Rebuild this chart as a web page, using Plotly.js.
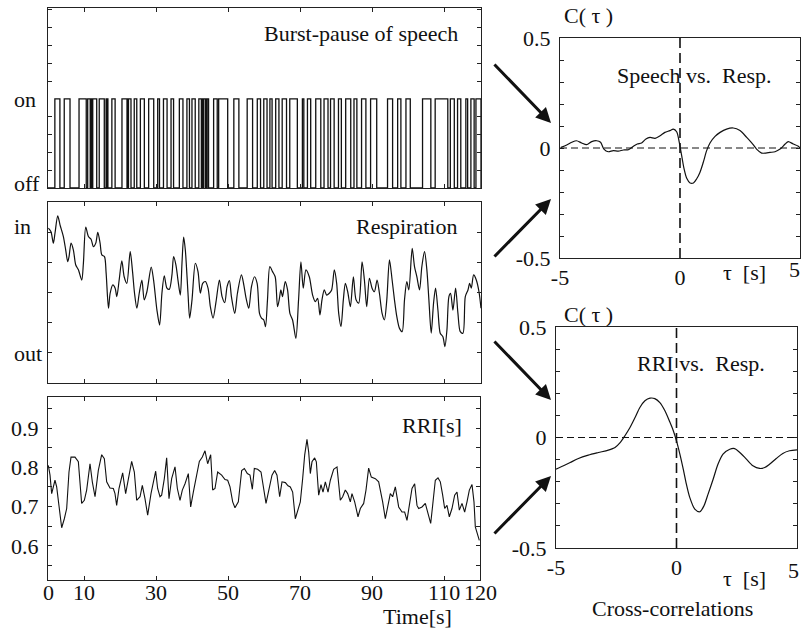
<!DOCTYPE html>
<html>
<head>
<meta charset="utf-8">
<script src="https://cdn.plot.ly/plotly-3.0.1.min.js"></script>
<style>html,body{margin:0;padding:0;background:#fff;}#chart{width:802px;height:628px;}</style>
</head>
<body>
<div id="chart"></div>
<script>
// ---------- DATA ----------
// Burst-pause of speech: intervals [start, end] (s) when speech is "on"
const speechOn = [[1.9,3.3],[4.5,6.1],[8.6,10.6],[11.0,11.7],[11.85,12.05],[12.15,12.3],[12.4,13.5],[14.2,15.6],[16.1,16.25],[16.4,16.6],[17.7,18.6],[20.5,21.9],[22.0,22.15],[22.3,23.0],[23.9,24.6],[25.6,26.7],[27.9,29.3],[30.4,30.9],[32.0,33.0],[34.1,34.8],[36.4,37.4],[38.5,39.2],[39.9,40.8],[41.8,42.5],[42.7,42.85],[43.1,43.6],[43.75,43.9],[44.1,44.5],[45.9,46.9],[47.3,49.8],[51.5,52.9],[55.2,56.7],[58.0,58.9],[59.8,60.7],[61.5,62.1],[63.1,64.0],[64.9,66.1],[67.0,69.1],[70.5,70.9],[71.9,72.8],[74.2,75.6],[76.5,77.6],[78.3,79.3],[80.5,81.3],[82.5,83.9],[84.8,85.6],[86.9,88.1],[89.4,91.1],[94.1,95.5],[96.9,97.8],[99.2,100.4],[103.8,106.1],[107.3,110.8],[111.5,112.6],[113.5,114.4],[115.8,116.3],[117.2,118.1],[118.6,120]];

// Respiration (arbitrary units: out = 1, in ≈ 5.3)
const respT = [0.1,0.83,1.48,1.94,2.69,3.33,4.26,4.91,5.46,5.83,6.39,7.04,7.69,8.43,9.35,9.81,10.46,11.2,11.94,12.59,13.24,13.8,14.44,14.91,15.65,16.11,16.76,17.22,17.96,18.61,19.07,19.72,20.46,21.11,21.85,22.78,23.43,23.98,24.63,25.28,26.02,26.67,27.41,28.61,29.26,30.19,30.93,31.57,32.22,32.96,33.61,34.35,34.81,35.46,36.02,36.67,37.13,37.59,38.06,38.8,39.26,39.91,40.83,41.57,42.22,42.87,43.61,44.35,45.0,45.74,46.57,47.5,48.24,48.98,49.63,50.28,50.83,51.76,52.5,53.61,54.26,54.91,55.65,56.39,57.22,57.96,58.61,59.17,59.81,60.28,60.83,61.48,62.22,62.96,63.61,64.07,64.54,65.0,65.74,66.39,67.04,67.78,68.7,69.44,70.09,70.74,71.48,72.41,73.33,74.07,74.72,75.37,75.93,76.57,77.22,77.96,78.61,79.35,80.0,80.56,81.2,81.85,82.41,83.06,83.8,84.63,85.37,86.11,87.04,87.69,88.33,89.07,89.81,90.46,91.2,91.85,92.59,93.24,93.89,94.63,95.37,96.02,96.67,97.41,98.15,98.8,99.44,100.0,100.93,101.57,102.22,102.96,103.61,104.35,105.0,105.56,106.2,106.85,107.41,108.06,108.7,109.44,110.0,110.56,111.11,111.57,112.22,112.96,113.61,114.26,115.0,115.65,116.39,116.85,117.31,117.96,118.7,119.44,120.0];
const respV = [5.16,5.04,4.66,4.99,5.57,5.27,4.88,4.43,4.04,4.21,4.66,4.43,3.93,3.77,3.43,3.99,5.19,4.88,4.79,4.54,4.66,5.02,4.66,4.27,4.21,3.66,2.49,2.99,3.27,3.16,2.88,3.43,4.07,3.54,3.32,4.38,3.71,2.99,2.49,2.99,3.43,2.77,3.04,3.86,3.43,2.43,1.93,2.99,3.57,3.16,3.12,3.6,4.21,3.93,3.43,2.93,3.99,4.86,4.43,2.99,2.16,2.77,3.99,3.71,2.99,3.32,3.38,3.16,2.54,2.16,2.71,3.43,2.88,2.68,3.21,3.41,2.88,2.32,2.99,3.6,3.27,2.82,2.49,3.21,3.54,3.32,2.32,2.16,2.1,1.88,2.77,3.88,3.71,3.54,2.54,2.77,3.1,2.88,3.38,3.1,2.32,2.1,1.49,2.77,4.04,3.16,3.77,3.54,2.93,2.71,2.82,2.27,2.77,3.1,2.93,2.99,3.1,3.77,3.32,2.32,1.88,2.77,3.32,3.04,2.54,3.54,2.77,2.66,4.04,3.43,2.54,3.49,3.16,3.04,3.43,2.99,2.32,2.1,2.77,4.1,3.43,2.77,2.21,1.82,1.71,2.77,3.38,3.1,4.49,3.88,3.54,3.1,3.88,4.38,3.77,2.77,1.66,2.66,3.16,2.43,1.66,1.54,1.21,1.77,2.88,2.99,2.43,3.16,2.32,1.71,1.66,2.88,3.1,3.32,3.16,3.6,3.43,3.04,2.49];

// RRI [s]
const rriT = [0.09,0.56,1.02,1.48,1.94,2.41,3.06,3.8,4.54,5.19,5.83,6.39,7.5,8.43,9.35,10.09,10.74,11.67,12.31,13.06,13.98,14.91,15.65,16.3,17.22,18.15,18.61,19.07,19.72,20.74,21.57,22.31,23.24,23.98,24.63,25.56,26.2,26.94,27.69,28.61,29.26,29.91,30.46,31.11,31.57,32.31,32.96,33.61,34.35,35.28,35.93,36.67,37.31,38.06,38.98,39.63,40.37,41.3,42.04,42.87,43.61,44.35,45.19,45.74,46.39,47.13,48.24,49.17,49.91,50.56,51.3,51.94,52.87,53.8,54.54,55.37,56.11,56.76,57.31,58.24,59.17,60.56,61.48,62.22,62.96,63.61,64.35,65.0,65.93,66.67,67.31,67.96,68.7,69.44,70.09,70.74,71.3,71.94,72.41,72.87,73.33,74.07,74.54,75.19,75.83,76.39,77.04,77.78,78.43,79.35,80.28,81.2,81.85,82.59,83.24,83.98,84.44,85.19,86.11,86.76,87.69,88.33,89.07,89.81,90.93,91.85,92.5,92.96,93.7,94.44,95.09,95.74,96.48,97.41,98.33,99.07,99.72,100.37,101.11,101.85,102.5,102.96,103.89,104.81,105.56,106.3,106.85,107.59,108.33,108.98,109.63,110.19,110.83,111.48,112.22,112.96,113.61,114.26,115.0,115.74,116.39,117.04,117.78,118.33,118.7,119.17,119.81];
const rriV = [0.805,0.78,0.733,0.754,0.767,0.75,0.695,0.646,0.669,0.695,0.788,0.826,0.826,0.814,0.708,0.716,0.742,0.809,0.763,0.725,0.792,0.832,0.822,0.763,0.747,0.746,0.733,0.703,0.746,0.786,0.733,0.771,0.815,0.788,0.716,0.725,0.754,0.72,0.678,0.733,0.763,0.79,0.746,0.725,0.729,0.771,0.824,0.72,0.771,0.801,0.746,0.716,0.742,0.758,0.784,0.699,0.737,0.78,0.815,0.826,0.842,0.809,0.832,0.742,0.746,0.788,0.78,0.769,0.767,0.75,0.712,0.697,0.712,0.792,0.797,0.784,0.78,0.744,0.797,0.795,0.788,0.708,0.746,0.78,0.792,0.78,0.725,0.763,0.761,0.753,0.75,0.737,0.669,0.695,0.712,0.771,0.831,0.871,0.839,0.784,0.814,0.824,0.814,0.729,0.756,0.737,0.763,0.737,0.767,0.795,0.801,0.716,0.725,0.742,0.733,0.712,0.733,0.712,0.674,0.695,0.708,0.742,0.798,0.775,0.771,0.763,0.737,0.712,0.669,0.708,0.733,0.725,0.75,0.699,0.686,0.686,0.665,0.703,0.746,0.758,0.703,0.695,0.699,0.708,0.682,0.657,0.703,0.767,0.773,0.763,0.729,0.695,0.703,0.674,0.695,0.729,0.737,0.691,0.708,0.686,0.712,0.742,0.756,0.712,0.648,0.636,0.614];

// Cross-correlation: speech vs. respiration
const ccSpTau = [-4.96,-4.72,-4.51,-4.31,-4.1,-3.89,-3.68,-3.47,-3.31,-3.17,-2.99,-2.78,-2.57,-2.36,-2.15,-1.94,-1.78,-1.6,-1.42,-1.25,-1.04,-0.83,-0.63,-0.42,-0.28,-0.14,-0.03,0.07,0.17,0.28,0.42,0.56,0.69,0.83,0.97,1.11,1.25,1.46,1.67,1.94,2.22,2.5,2.78,3.03,3.19,3.4,3.58,3.75,3.96,4.17,4.38,4.51,4.72,4.93,5.0];
const ccSpC = [0.003,0.014,0.026,0.033,0.023,0.015,0.029,0.033,0.026,-0.005,-0.017,-0.012,-0.014,-0.009,-0.008,0.008,0.018,0.023,0.041,0.048,0.044,0.056,0.071,0.079,0.086,0.074,0.026,-0.035,-0.095,-0.138,-0.159,-0.159,-0.141,-0.111,-0.065,-0.012,0.023,0.053,0.071,0.086,0.091,0.079,0.048,0.018,-0.005,-0.023,-0.023,-0.02,-0.017,-0.005,0.018,0.029,0.018,0.008,-0.002];

// Cross-correlation: RRI vs. respiration
const ccRrTau = [-5.0,-4.69,-4.41,-4.07,-3.66,-3.24,-2.83,-2.55,-2.34,-2.14,-1.93,-1.72,-1.52,-1.31,-1.1,-0.9,-0.69,-0.48,-0.28,-0.14,0.0,0.14,0.28,0.41,0.55,0.76,0.97,1.14,1.31,1.52,1.72,1.93,2.21,2.41,2.66,2.9,3.17,3.45,3.66,3.86,4.14,4.41,4.69,5.0];
const ccRrC = [-0.143,-0.128,-0.113,-0.095,-0.08,-0.068,-0.057,-0.045,-0.023,0.008,0.045,0.09,0.136,0.166,0.178,0.176,0.158,0.121,0.071,0.033,-0.015,-0.075,-0.143,-0.211,-0.271,-0.324,-0.336,-0.309,-0.256,-0.189,-0.121,-0.075,-0.053,-0.05,-0.071,-0.098,-0.128,-0.14,-0.136,-0.121,-0.095,-0.072,-0.06,-0.056];

// Tick labels
const timeTicks = [0,10,30,50,70,90,110,120];
const timeMinor = [10,30,50,70,90,110];
const rriTickVals = [0.55,0.6,0.65,0.7,0.75,0.8,0.85,0.9,0.95];
const rriTickText = ['','0.6','','0.7','','0.8','','0.9',''];
const ccTickVals = [-0.5,-0.4,-0.3,-0.2,-0.1,0,0.1,0.2,0.3,0.4,0.5];
const ccTickText = ['-0.5','','','','','0','','','','','0.5'];
const tauTicks = [-5,0];

// ---------- BUILD ----------
const spX = [0], spY = [0];
speechOn.forEach(([a,b]) => { spX.push(a,a,b,b); spY.push(0,1,1,0); });
spX.push(120); spY.push(0);

const W = 802, H = 628;
const X = px => px / W;
const Y = py => 1 - py / H;
const FONT = 'Liberation Serif, Times New Roman, serif';
const INK = '#111';

const base = {showline:true, linecolor:'#222', linewidth:1, mirror:'ticks', ticks:'inside', ticklen:4, tickwidth:1, tickcolor:'#222', zeroline:false, showgrid:false, fixedrange:true};

const traces = [
  {x:spX, y:spY, xaxis:'x', yaxis:'y', mode:'lines', line:{color:INK, width:1.3}, hoverinfo:'skip'},
  {x:respT, y:respV, xaxis:'x2', yaxis:'y2', mode:'lines', line:{color:INK, width:1.2, shape:'spline', smoothing:0.8}, hoverinfo:'skip'},
  {x:rriT, y:rriV, xaxis:'x3', yaxis:'y3', mode:'lines', line:{color:INK, width:1.1}, hoverinfo:'skip'},
  {x:ccSpTau, y:ccSpC, xaxis:'x4', yaxis:'y4', mode:'lines', line:{color:INK, width:1.2, shape:'spline', smoothing:0.8}, hoverinfo:'skip'},
  {x:ccRrTau, y:ccRrC, xaxis:'x5', yaxis:'y5', mode:'lines', line:{color:INK, width:1.2, shape:'spline', smoothing:0.8}, hoverinfo:'skip'}
];

const leftX = [X(48), X(481)];
const layout = {
  width: W, height: H, margin:{l:0,r:0,t:0,b:0},
  paper_bgcolor:'#fff', plot_bgcolor:'#fff', showlegend:false,
  font:{family:FONT, size:22, color:INK},
  xaxis: Object.assign({}, base, {domain:leftX, anchor:'y', range:[0,120], tickvals:timeMinor, showticklabels:false}),
  yaxis: Object.assign({}, base, {domain:[Y(188), Y(8)], anchor:'x', range:[0,2.02], tickvals:[0.2,0.4,0.6,0.8,1.2,1.4,1.6,1.8,2.0], showticklabels:false}),
  xaxis2: Object.assign({}, base, {domain:leftX, anchor:'y2', range:[0,120], tickvals:timeMinor, showticklabels:false}),
  yaxis2: Object.assign({}, base, {domain:[Y(383), Y(202)], anchor:'x2', range:[0,6.03], tickvals:[1,2,3,4,5], showticklabels:false}),
  xaxis3: Object.assign({}, base, {domain:[X(48), X(480)], anchor:'y3', range:[0,120], tickvals:timeMinor, showticklabels:false}),
  yaxis3: Object.assign({}, base, {domain:[Y(580), Y(397)], anchor:'x3', range:[0.513,0.979], tickvals:rriTickVals, ticktext:rriTickText, tickfont:{size:22}, ticklabelstandoff:4}),
  xaxis4: Object.assign({}, base, {domain:[X(560), X(800)], anchor:'y4', range:[-5,5], ticks:'', tickvals:tauTicks, ticktext:['-5','0'], tickfont:{size:22}}),
  yaxis4: Object.assign({}, base, {domain:[Y(258), Y(38)], anchor:'x4', range:[-0.5,0.5], tickvals:ccTickVals, ticktext:ccTickText, tickfont:{size:22}, ticklabelstandoff:4}),
  xaxis5: Object.assign({}, base, {domain:[X(556), X(797)], anchor:'y5', range:[-5,5], ticks:'', tickvals:tauTicks, ticktext:['-5','0'], tickfont:{size:22}}),
  yaxis5: Object.assign({}, base, {domain:[Y(548), Y(327)], anchor:'x5', range:[-0.5,0.5], tickvals:ccTickVals, ticktext:ccTickText, tickfont:{size:22}, ticklabelstandoff:4}),
  shapes: [
    {type:'line', xref:'x4', yref:'y4', x0:0, x1:0, y0:-0.5, y1:0.5, line:{color:INK, width:1.6, dash:'10px,5px'}},
    {type:'line', xref:'x4', yref:'y4', x0:-5, x1:5, y0:0, y1:0, line:{color:INK, width:1, dash:'7px,4px'}},
    {type:'line', xref:'x5', yref:'y5', x0:0, x1:0, y0:-0.5, y1:0.5, line:{color:INK, width:1.6, dash:'10px,5px'}},
    {type:'line', xref:'x5', yref:'y5', x0:-5, x1:5, y0:0, y1:0, line:{color:INK, width:1, dash:'7px,4px'}}
  ],
  annotations: []
};

function txt(text, px, py, xanchor, size) {
  layout.annotations.push({text:text, x:X(px), y:Y(py), xref:'paper', yref:'paper', xanchor:xanchor||'center', yanchor:'middle', showarrow:false, font:{family:FONT, size:size||22, color:INK}});
}
// time tick labels, placed on the x3 axis scale
timeTicks.forEach(v => {
  layout.annotations.push({text:String(v), x:v, xref:'x3', y:Y(592), yref:'paper', xanchor:'center', yanchor:'middle', showarrow:false, font:{family:FONT, size:22, color:INK}});
});
txt('Burst-pause of speech', 460, 34, 'right');
txt('Respiration', 459, 226, 'right');
txt('RRI[s]', 464, 425, 'right');
txt('on', 12, 100, 'left');
txt('off', 12, 183, 'left');
txt('in', 12, 226, 'left');
txt('out', 12, 353, 'left');
txt('Time[s]', 417, 616, 'center');
txt('C( τ )', 588, 15, 'center');
txt('C( τ )', 588, 314, 'center');
txt('τ  [s]', 744, 272, 'center');
txt('τ  [s]', 744, 578, 'center');
txt('Speech\u00a0vs.\u00a0\u00a0Resp.', 694, 75, 'center');
txt('RRI\u00a0vs.\u00a0\u00a0Resp.', 701, 363, 'center');
txt('Cross-correlations', 672, 608, 'center');
txt('5', 802, 269, 'right');
txt('5', 793, 570, 'center');

function arrow(hx, hy, tx, ty) {
  layout.annotations.push({text:'', x:X(hx), y:Y(hy), xref:'paper', yref:'paper', ax:tx-hx, ay:ty-hy, showarrow:true, arrowhead:2, arrowsize:1, arrowwidth:3, arrowcolor:INK});
}
arrow(551, 123, 493, 63);
arrow(551, 199, 493, 258);
arrow(551, 400, 493, 340);
arrow(551, 476, 493, 535);

Plotly.newPlot('chart', traces, layout, {staticPlot:true, displayModeBar:false});
</script>
</body>
</html>
